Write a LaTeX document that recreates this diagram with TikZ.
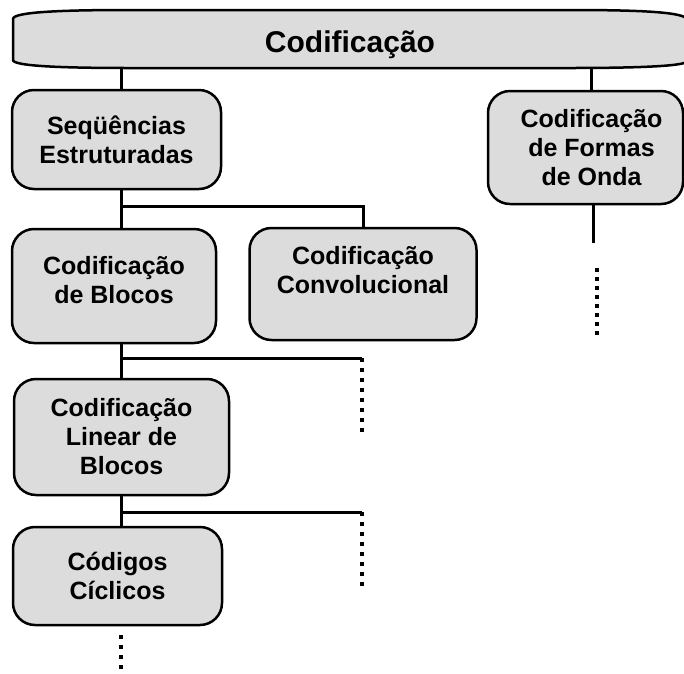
\documentclass[tikz,border=0pt]{standalone}
\usepackage{fontspec}
\setmainfont{Liberation Sans}
\definecolor{boxgray}{RGB}{220,220,220}
\begin{document}
\begin{tikzpicture}[x=1pt,y=-1pt,
  box/.style={draw=black, line width=2.5pt, fill=boxgray, rounded corners=22pt,
    inner sep=0pt, align=center, font=\fontsize{25}{29}\selectfont\bfseries},
  bartext/.style={inner sep=0pt, font=\fontsize{30}{34}\selectfont\bfseries},
  link/.style={line width=3pt},
  more/.style={line width=4pt, dash pattern=on 4pt off 6pt},
  moreb/.style={line width=4pt, dash pattern=on 4pt off 5pt},
]
\useasboundingbox (0,0) rectangle (684,673);
\fill[white] (0,0) rectangle (684,673);
\clip (0,0) rectangle (684,673);

% title bar
\draw[line width=2.5pt, fill=boxgray]
  (13,19) .. controls (13,12) and (60,10) .. (130,10) -- (570,10)
  .. controls (640,10) and (687,12) .. (687,20) -- (687,61)
  .. controls (687,66) and (640,68) .. (570,68) -- (130,68)
  .. controls (60,68) and (13,66) .. (13,60) -- cycle;
\node[bartext, minimum width=673pt, minimum height=46pt] (title) at (350,45) {Codificação};

% boxes
\node[box, minimum width=209pt, minimum height=99pt]  (seq)    at (116.5,139.5) {Seqüências\\Estruturadas};
\node[box, minimum width=195pt, minimum height=113pt] (formas) at (585.5,147.5)
  {\hspace*{12pt}Codificação\\\hspace*{12pt}de Formas\\\hspace*{12pt}de Onda};
\node[box, minimum width=204pt, minimum height=114pt] (blocos) at (114,286)   {Codificação\\de Blocos\\[-17pt]\mbox{}};
\node[box, minimum width=227pt, minimum height=112pt] (conv)   at (363,284)   {Codificação\\Convolucional\\\mbox{}};
\node[box, minimum width=215pt, minimum height=116pt] (linear) at (121.5,437) {Codificação\\Linear de\\Blocos};
\node[box, minimum width=209pt, minimum height=98pt]  (ciclicos) at (117.5,576) {Códigos\\Cíclicos};

% spine coordinates
\coordinate (sp) at (121,0);
\coordinate (fs) at (591,0);
\coordinate (fs2) at (593,0);
\coordinate (j1) at (121,206);
\coordinate (j2) at (121,358);
\coordinate (j3) at (121,512);
\coordinate (d1a) at (362,358);
\coordinate (d1b) at (362,433);
\coordinate (d2a) at (362,512);
\coordinate (d2b) at (362,587);
\coordinate (f1) at (593,243);
\coordinate (fd1) at (597,268);
\coordinate (fd2) at (597,336);
\coordinate (c1) at (121,635);
\coordinate (c2) at (121,670);

% connectors
\draw[link] (sp |- title.south) -- (sp |- seq.north);
\draw[link] (fs |- title.south) -- (fs |- formas.north);
\draw[link] (sp |- seq.south) -- (sp |- blocos.north);
\draw[link] (j1) -| (conv.north);
\draw[link] (sp |- blocos.south) -- (sp |- linear.north);
\draw[link] (j2) -- (d1a);
\draw[more] (d1a) -- (d1b);
\draw[link] (sp |- linear.south) -- (sp |- ciclicos.north);
\draw[link] (j3) -- (d2a);
\draw[more] (d2a) -- (d2b);
\draw[link] (fs2 |- formas.south) -- (f1);
\draw[moreb] (fd1) -- (fd2);
\draw[more] (c1) -- (c2);
\end{tikzpicture}
\end{document}
